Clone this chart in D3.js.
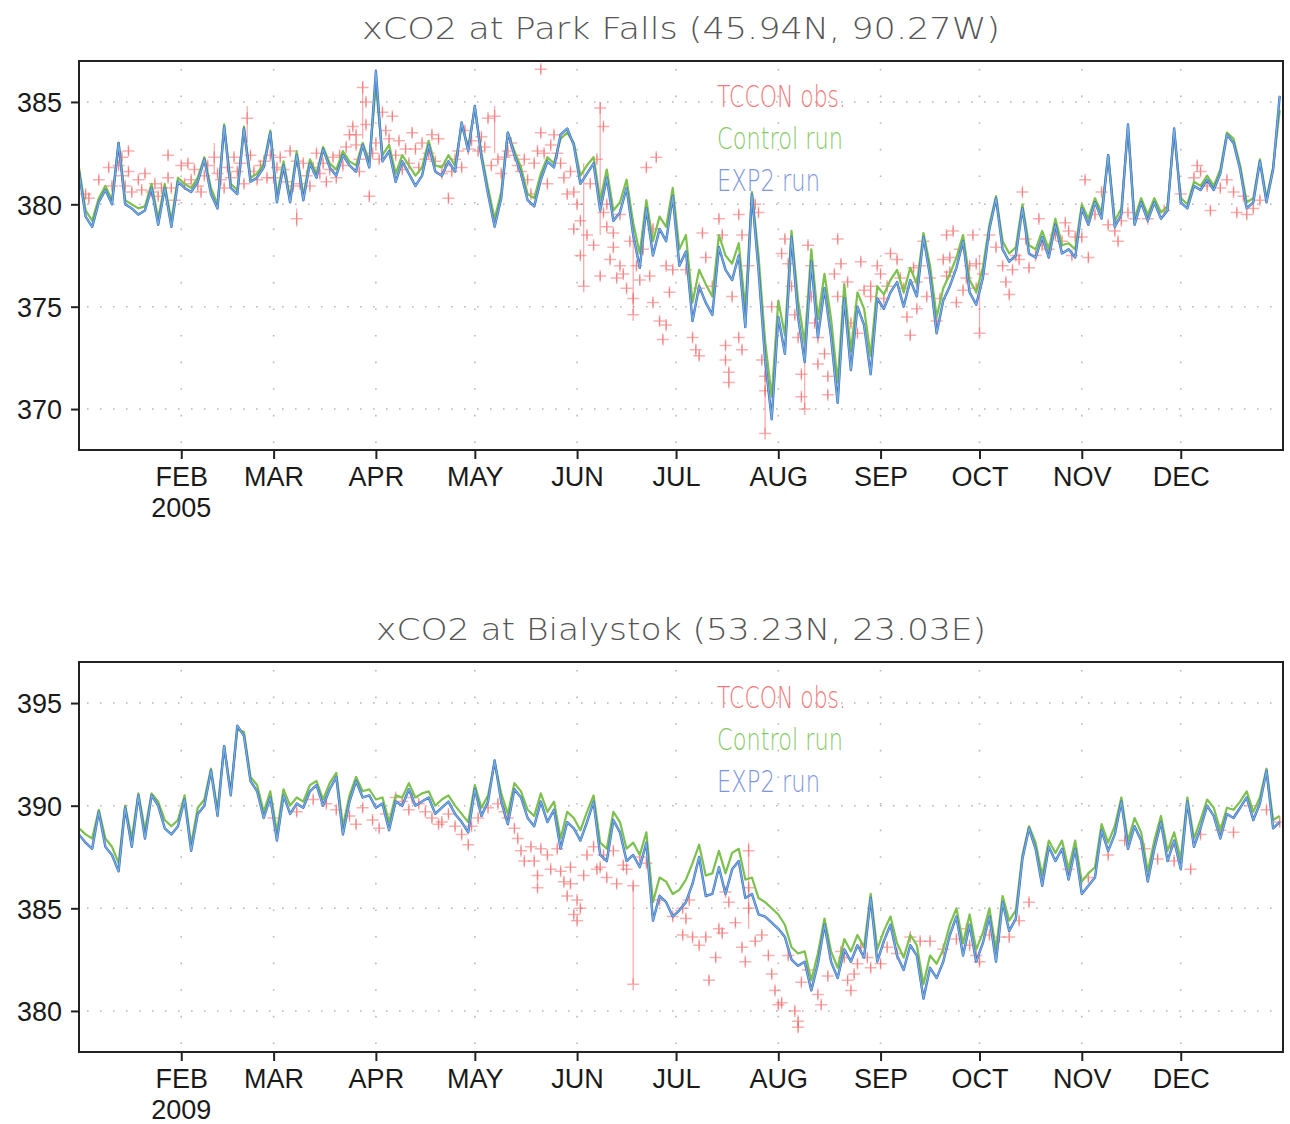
<!DOCTYPE html>
<html>
<head>
<meta charset="utf-8">
<script src="https://cdn.jsdelivr.net/npm/d3@7"></script>
<style>
  body { margin: 0; background: #fff; }
  svg { display: block; }
</style>
</head>
<body>
<svg id="chart" width="1290" height="1124"></svg>
<script>
// Model series are sampled every STEP_DAYS days starting on Jan 1.
const STEP_DAYS = 2;

const monthLabels = ["FEB", "MAR", "APR", "MAY", "JUN", "JUL", "AUG", "SEP", "OCT", "NOV", "DEC"];
const parkTicks = [370, 375, 380, 385];
const bialTicks = [380, 385, 390, 395];
const legendLabels = ["TCCON obs.", "Control run", "EXP2 run"];

// Park Falls 2005, column-averaged CO2 (ppm)
const parkExp2 = [
  381.6,379.4,378.9,380.1,380.7,380.0,383.0,380.0,379.8,379.5,379.7,380.8,379.0,380.8,378.9,381.1,
  380.8,380.6,381.1,382.2,380.5,379.8,383.8,380.8,380.5,383.7,381.1,381.3,381.8,383.5,380.1,381.9,
  380.1,382.4,380.2,382.0,381.3,382.7,381.8,381.4,382.4,381.9,381.6,382.9,381.8,386.5,382.1,382.6,
  381.1,382.1,381.5,380.9,381.4,382.9,381.6,381.4,382.1,381.6,384.0,382.6,384.8,382.3,380.5,378.9,
  380.3,383.5,382.4,381.5,380.2,379.9,381.2,382.1,381.8,383.4,383.7,382.9,381.0,381.5,382.0,379.7,
  381.3,379.2,379.6,380.8,378.5,376.9,379.8,377.5,378.8,378.2,380.4,377.0,377.7,374.3,376.0,375.2,
  374.6,377.9,376.8,376.3,377.5,374.0,380.5,376.8,372.4,369.5,374.5,372.7,378.4,374.5,372.3,377.2,
  373.5,375.9,373.5,370.3,375.4,371.9,375.0,374.1,371.7,375.4,374.9,375.7,376.2,375.0,376.3,375.5,
  378.4,376.5,373.7,375.3,376.0,376.9,378.2,375.7,375.1,376.4,378.8,380.3,377.8,377.2,377.5,379.8,
  377.6,377.4,378.4,377.4,379.0,377.6,377.8,377.4,379.8,379.0,380.1,379.3,382.4,378.9,379.5,383.9,
  379.0,380.1,379.2,380.1,379.3,379.7,383.7,380.1,379.8,380.9,380.7,381.2,380.7,381.5,383.4,383.0,
  381.7,379.8,380.1,382.1,380.1,381.7,385.3
];
const parkControl = [
  381.8,379.7,379.2,380.3,380.9,380.2,383.0,380.2,380.0,379.8,379.9,381.0,379.3,381.0,379.2,381.3,
  381.0,380.8,381.3,382.3,380.8,380.0,383.9,381.0,380.7,383.8,381.3,381.5,382.0,383.6,380.4,382.1,
  380.3,382.6,380.4,382.2,381.5,382.8,382.0,381.7,382.6,382.1,381.9,383.0,382.1,385.8,382.4,382.9,
  381.5,382.4,381.9,381.4,381.8,383.1,381.9,381.8,382.4,381.9,383.9,382.8,384.7,382.5,380.8,379.3,
  380.6,383.5,382.6,381.8,380.5,380.3,381.5,382.3,382.0,383.2,383.5,383.0,381.4,381.9,382.3,380.2,
  381.7,379.7,380.1,381.2,379.1,377.6,380.2,378.2,379.4,378.9,380.8,377.8,378.5,375.2,376.8,376.1,
  375.5,378.5,377.5,377.1,378.1,374.9,380.6,377.5,373.3,370.6,375.3,373.6,378.7,375.3,373.2,377.8,
  374.4,376.6,374.4,371.3,376.1,372.8,375.7,374.9,372.6,376.0,375.6,376.3,376.8,375.7,376.9,376.1,
  378.6,377.0,374.5,375.9,376.6,377.4,378.5,376.3,375.7,376.9,379.0,380.4,378.2,377.6,377.9,380.0,
  378.0,377.8,378.7,377.8,379.3,378.0,378.1,377.8,380.0,379.3,380.3,379.6,382.4,379.2,379.8,383.7,
  379.3,380.3,379.5,380.3,379.6,379.9,383.5,380.3,380.0,381.1,380.9,381.4,380.9,381.7,383.5,383.2,
  381.9,380.1,380.3,382.2,380.3,381.8,384.6
];
// TCCON retrievals: [day of year, value] or [day, value, bar low, bar high]
const parkObs = [
  [2,380.5],[3,380.3],[6,381.2],[9,381.8],[10,380.9],[12,381.9],[13,382.3],[13,381.4],[14,380.9],
  [15,381.6],[15,382.6],[16,380.6],[18,381.2],[19,380.7],[20,381.5],
  [22,380.6],[23,381.0],[24,380.4],[25,380.8],[27,382.4],[27,381.3],[28,380.8],[29,380.2],[31,381.9],
  [32,381.0],[33,382.0],[34,381.2],[35,381.7],[36,380.9],[37,380.6],[38,381.4],[39,381.9],
  [41,382.3,381.5,383.0],[42,381.5],[43,381.2],[44,380.8],[45,381.8],[46,381.3],[47,382.3],
  [48,381.6],[49,382.0],[50,381.0],[51,384.2,383.0,384.8],[52,382.4],[53,381.6],[54,381.2],[55,381.9],
  [56,382.1],[57,381.3],[58,382.4],[59,381.3],[60,381.8],
  [61,382.3],[62,381.7],[63,381.1],[64,382.6],[65,380.9],[66,379.3,378.9,379.8],[66,382.1],[67,381.0],
  [68,382.0],[69,381.4],[70,380.9],[71,381.8],[72,382.5],[73,381.5],[74,382.0],[75,381.1],
  [76,381.7],[77,382.3],[78,381.3],[79,382.4],[80,381.9],[81,382.8],[82,383.4],[83,383.8],[84,382.9],
  [84,383.4],[85,382.2],[85,381.6],[86,385.7,383.2,386.0],[87,385.0],
  [87,383.9],[88,380.4],[89,382.5],[90,383.0],[91,382.2],[92,384.5],[93,383.6],[94,383.2],[95,384.3],
  [96,382.4],[97,383.1],[98,381.7],[99,382.7],[100,382.0],[101,383.5],[102,382.7],[103,381.8],
  [104,383.0],[105,382.2],[106,382.5],[107,383.4],[108,382.1],[109,383.2],[110,381.5],
  [111,381.9],[112,380.3],[113,381.6],[114,382.2],[115,382.6],[116,381.8],[117,383.6],[118,382.7],
  [119,383.1],[121,382.6],[122,383.3],[123,382.8],[124,384.2],[125,381.9],
  [126,384.3,382.5,384.8],[127,382.2],[128,381.5],[129,382.3],[130,382.6],[131,383.0],[132,382.4],
  [133,381.9],[134,381.6],[135,382.2],[136,381.2],[137,380.5],[138,382.0],[139,382.6],[140,383.5],
  [140,386.6],[141,382.5],[142,381.0],[143,382.9],[144,383.4],[145,382.5],[146,382.0],[147,381.3],
  [148,380.5],[149,381.6],[150,380.6],[150,378.8],[151,380.0],[152,379.2],[152,377.5],
  [153,376.0,376.0,382.0],[154,378.5],[155,381.0],[156,378.0],[157,382.2],[158,384.7,378.5,385.0],
  [158,376.5],[159,383.8],[159,379.6],[160,380.0],[160,378.9],[161,377.3],[162,378.6],[162,377.9],
  [163,376.4],[164,379.5],[164,377.0],[165,376.6],[166,375.9],[167,378.2],[168,374.6,374.6,379.0],
  [168,375.4],[169,377.0],[170,376.3],[171,377.8],[172,381.8],[173,376.5],[174,375.2],[174,378.8],
  [175,382.3],[176,374.3],[177,373.4],[178,374.1],[178,377.0],[179,375.7],[180,376.8],
  [184,376.8],[186,373.5],[187,372.9],[188,372.6],[188,375.9],[189,378.6],[190,377.4],[192,376.0],
  [194,379.3],[195,378.5],[196,373.1],[196,372.4],[197,371.8],[197,371.3],[198,375.5],[200,379.5],
  [201,378.5],[200,373.5],[201,372.9],[203,377.0],[205,380.0],[206,379.6],[207,372.4],[208,371.6],
  [208,370.9],[208,368.8,368.8,373.0],[210,375.0],[213,377.6],[214,378.3],[215,377.1],[216,376.0],
  [217,374.6],[218,373.5],[219,371.7],[219,370.6],[220,370.0,370.0,373.5],[221,378.0],[222,377.0],
  [222,375.5],[223,374.2],[224,373.5],[224,372.2],[226,372.7],[227,371.6],[227,370.7],[229,376.6],
  [230,375.5],[230,378.3],[231,377.1],[233,376.2],[234,374.2],[236,373.7],[237,377.2],[238,375.8],
  [240,376.0],[240,375.5],[242,377.0],[243,376.6],[244,375.4],[245,376.0],[246,377.6],[248,377.3],
  [249,376.4],[250,375.9],[251,374.5],[252,373.6],[253,376.9],[254,376.2],[254,374.9],[255,377.0],
  [256,378.2],[257,375.5],[258,376.4],[260,374.3],[261,375.4],[262,377.3],[263,376.5],[263,378.5],
  [264,377.4],[264,376.7],[265,378.7],[266,375.2],[267,377.8],[268,375.8],[269,376.4],[270,377.0],
  [271,378.5],[272,377.1],[272,375.9],[273,373.7,373.7,377.5],[274,376.6],[276,378.5],[278,377.9],
  [280,377.0],[281,376.2],[282,375.6],[283,376.8],[284,377.5],[285,377.3],[286,380.6],[287,378.3],
  [288,376.9],[290,377.5],[291,379.3],[292,378.0],[294,377.8],[296,378.5],[298,378.2],[299,379.1],
  [300,378.7],[301,377.5],[302,378.4],[304,378.4],[305,381.2],[306,377.4],[308,379.5],[310,380.6],
  [312,379.0],[314,378.7],[315,378.2],[316,379.2],[318,379.6],[320,379.3],[324,379.3],[329,379.7],
  [334,380.5],[338,381.3],[339,381.9],[340,381.6],[342,380.9],[343,379.7],[346,380.8],[348,381.2],
  [350,380.6],[351,379.6],[353,380.4],[354,379.5],[356,379.8],[358,380.2]
];

// Bialystok 2009, column-averaged CO2 (ppm)
const bialExp2 = [
  388.6,388.2,387.9,389.7,388.0,387.6,386.8,389.9,388.0,390.5,388.4,390.5,390.0,388.9,388.6,389.0,
  390.3,387.8,389.6,390.0,391.7,389.5,392.9,390.5,393.9,393.4,391.2,390.7,389.4,390.4,388.3,390.5,
  389.6,390.1,389.9,390.7,391.0,390.0,390.8,391.4,388.6,390.2,391.2,390.4,390.5,389.9,390.1,388.8,
  390.2,390.0,390.8,390.0,390.2,390.4,389.6,389.9,390.2,389.6,389.2,388.7,390.8,389.5,390.2,392.2,
  390.2,389.1,390.8,390.4,389.4,389.0,390.2,389.2,389.8,387.9,389.2,388.9,388.3,389.2,390.2,387.6,
  387.3,389.3,388.7,387.3,387.6,387.0,388.2,384.4,385.6,385.3,384.6,384.9,385.3,386.2,387.5,385.6,
  385.7,387.0,385.7,386.9,387.3,385.5,385.7,384.7,384.6,384.3,384.0,383.6,382.5,382.2,382.4,381.0,
  382.3,384.2,382.4,381.6,383.0,382.4,383.2,382.6,385.5,382.4,383.4,384.2,382.7,382.0,383.2,382.7,
  380.6,382.1,381.6,382.4,383.7,384.6,382.7,384.2,382.4,383.3,384.6,382.4,385.3,383.9,384.5,387.4,
  388.9,387.9,386.1,388.0,387.3,387.9,386.4,387.9,385.7,386.1,386.5,388.8,387.8,388.6,390.2,387.9,
  389.0,388.3,386.3,387.9,389.2,387.3,388.3,386.9,390.2,388.0,388.9,390.0,389.5,388.4,389.6,389.4,
  389.9,390.4,389.3,390.1,391.7,388.9,389.2
];
const bialControl = [
  388.9,388.6,388.4,389.8,388.4,388.0,387.2,390.0,388.4,390.6,388.8,390.6,390.2,389.3,389.0,389.3,
  390.5,388.1,389.9,390.3,391.8,389.8,392.9,390.7,393.7,393.6,391.4,391.0,389.7,390.7,388.7,390.8,
  390.0,390.4,390.2,391.0,391.2,390.3,391.1,391.6,389.0,390.5,391.4,390.7,390.8,390.3,390.4,389.2,
  390.5,390.4,391.1,390.4,390.6,390.7,390.0,390.3,390.5,390.0,389.6,389.2,391.0,389.9,390.5,392.1,
  390.6,389.6,391.1,390.7,389.8,389.5,390.6,389.7,390.2,388.4,389.7,389.4,388.8,389.7,390.5,388.2,
  387.9,389.7,389.2,387.9,388.2,387.6,388.7,385.3,386.5,386.3,385.7,385.9,386.4,387.2,388.1,386.6,
  386.7,387.8,386.7,387.7,387.9,386.4,386.5,385.5,385.3,385.0,384.7,384.2,383.1,382.8,382.9,381.5,
  382.8,384.5,382.9,382.1,383.5,382.9,383.7,383.1,385.7,383.0,383.9,384.6,383.3,382.6,383.7,383.2,
  381.3,382.7,382.3,383.0,384.2,385.0,383.3,384.7,383.0,383.8,385.0,383.0,385.6,384.4,384.9,387.6,
  389.0,388.2,386.6,388.3,387.7,388.3,386.9,388.3,386.3,386.7,387.0,389.1,388.2,389.0,390.4,388.3,
  389.4,388.7,386.8,388.3,389.5,387.8,388.7,387.4,390.4,388.4,389.3,390.3,389.9,388.8,389.9,389.8,
  390.2,390.7,389.7,390.4,391.8,389.3,389.5
];
const bialObs = [
  [59,389.4],[66,389.7],[71,390.3],[75,390.1],[78,389.8],[82,389.5],[84,389.1],[86,389.9],[89,389.3],
  [91,388.9],[93,389.6],[96,390.4],[98,390.2],[100,389.8],[101,390.4],[103,390.1],[105,389.7],
  [107,389.4],[109,389.1],[110,389.2],[112,389.6],[114,389.0],[116,388.6],[118,388.1],[119,389.0],
  [121,389.4],[124,389.9],[127,390.1],[129,389.7],[130,389.4],[132,388.9],[133,388.4],[134,387.8],
  [135,387.3],[137,388.0],[138,387.3],[139,386.6],[139,386.0],[140,387.9],[142,387.6],[143,386.9],
  [145,387.9],[146,386.8],[147,386.3],[148,385.6],[149,387.0],[149,386.2],[150,384.7],[151,384.4],
  [151,385.4],[152,385.0],[153,386.6],[154,387.6],[156,388.0],[157,386.9],[158,387.0],[159,387.6],
  [160,386.5],[162,387.8],[163,386.2],[165,387.1],[166,386.9],[168,386.1],[168,381.3,381.3,386.1],
  [170,387.5],[172,387.2],[176,385.4],[180,384.6],[183,385.0],[184,384.5],[183,383.7],[185,385.4],
  [186,383.6],[188,383.2],[190,383.6],[191,381.5],[193,382.6],[194,384.0],[195,383.8],[196,385.8],
  [197,385.3],[199,384.3],[201,383.1],[202,382.4],[203,387.8,384.0,388.2],[203,386.0],[203,385.0],
  [205,383.4],[207,383.7],[209,382.7],[210,381.8],[211,381.0],[212,380.3],[213,380.4],[215,382.7],
  [217,380.0],[218,379.5],[218,379.2],[219,381.4],[221,382.0],[224,380.8],[225,380.3],[227,381.7],
  [231,382.9],[232,382.6],[233,381.5],[234,381.0],[235,381.8],[236,382.3],[237,383.1],[239,382.6],
  [240,382.1],[243,382.3],[245,383.1],[248,382.8],[252,383.6],[255,383.4],[258,383.4],[262,383.0],
  [266,383.5],[269,384.0],[270,383.2],[272,382.7],[273,382.4],[276,383.7],[279,383.6],[282,383.6],
  [285,384.4],[288,385.3],[300,386.9],[306,386.5],[312,387.6],[317,388.3],[323,387.9],[327,387.4],
  [331,388.0],[332,387.3],[337,386.9],[340,388.6],[346,388.8],[350,388.7],[355,390.0],[360,389.8],
  [364,389.2]
];

const svg = d3.select("#chart");
const plotLeft = 79, plotRight = 1283;
const DAY_MS = 864e5;

const panels = [
  { title: "xCO2 at Park Falls (45.94N, 90.27W)", year: 2005,
    exp2: parkExp2, control: parkControl, obs: parkObs,
    yDomain: [368, 387], yTicks: parkTicks,
    top: 61, bottom: 450, titleY: 39, titleW: 638, legendY: [107, 149, 191] },
  { title: "xCO2 at Bialystok (53.23N, 23.03E)", year: 2009,
    exp2: bialExp2, control: bialControl, obs: bialObs,
    yDomain: [378, 397], yTicks: bialTicks,
    top: 662, bottom: 1052, titleY: 640, titleW: 610, legendY: [708, 750, 792] }
];

const legendColors = ["#f27a7a", "#86c966", "#7d97dc"];
const legendWidths = [129, 126, 103];

panels.forEach((p, pi) => {
  const t0 = Date.UTC(p.year, 0, 1);
  const x = d3.scaleUtc().domain([new Date(t0), new Date(Date.UTC(p.year + 1, 0, 1))])
    .range([plotLeft, plotRight]);
  const dayDate = d => new Date(t0 + d * DAY_MS);
  const y = d3.scaleLinear().domain(p.yDomain).range([p.bottom, p.top]);
  const monthDates = d3.utcMonth.range(new Date(Date.UTC(p.year, 1, 1)), new Date(Date.UTC(p.year, 11, 2)));

  const g = svg.append("g");

  // title
  g.append("text")
    .attr("x", (plotLeft + plotRight) / 2)
    .attr("y", p.titleY)
    .attr("text-anchor", "middle")
    .attr("textLength", p.titleW)
    .attr("lengthAdjust", "spacingAndGlyphs")
    .style("font-family", "'DejaVu Sans', sans-serif")
    .style("font-weight", 200)
    .style("font-size", "30px")
    .style("fill", "#555")
    .text(p.title);

  const clipId = "clip" + pi;
  g.append("clipPath").attr("id", clipId)
    .append("rect").attr("x", plotLeft).attr("y", p.top)
    .attr("width", plotRight - plotLeft).attr("height", p.bottom - p.top);

  // dotted grid
  const grid = g.append("g").attr("stroke", "#b8b8b8").attr("stroke-width", 1.6).attr("fill", "none");
  grid.selectAll("line.h").data(p.yTicks).join("line")
    .attr("class", "h")
    .attr("x1", plotLeft + 8).attr("x2", plotRight)
    .attr("y1", d => y(d)).attr("y2", d => y(d))
    .attr("stroke-dasharray", "1.6 11.4");
  grid.selectAll("line.v").data(monthDates).join("line")
    .attr("class", "v")
    .attr("x1", d => x(d)).attr("x2", d => x(d))
    .attr("y1", p.top + 8).attr("y2", p.bottom)
    .attr("stroke-dasharray", "1.6 25");

  const plot = g.append("g").attr("clip-path", `url(#${clipId})`);

  // observations: error bars and plus markers
  const obs = p.obs.map(r => ({ d: r[0], v: r[1], lo: r.length > 2 ? r[2] : r[1] - 0.2, hi: r.length > 2 ? r[3] : r[1] + 0.2 }));
  plot.append("g").selectAll("line").data(obs).join("line")
    .attr("x1", o => x(dayDate(o.d))).attr("x2", o => x(dayDate(o.d)))
    .attr("y1", o => y(o.lo)).attr("y2", o => y(o.hi))
    .attr("stroke", "#f07070").attr("stroke-opacity", 0.6).attr("stroke-width", 1.2);
  plot.append("g").selectAll("path").data(obs).join("path")
    .attr("transform", o => `translate(${x(dayDate(o.d))},${y(o.v)})`)
    .attr("d", "M-6,0H6M0,-6V6")
    .attr("stroke", "#ef4f4f").attr("stroke-opacity", 0.45).attr("stroke-width", 1.5)
    .attr("fill", "none");

  // model runs
  const line = d3.line().x((v, i) => x(dayDate(i * STEP_DAYS))).y(v => y(v));
  plot.append("path").datum(p.control).attr("d", line)
    .attr("fill", "none").attr("stroke", "#7cc04e").attr("stroke-width", 2.2)
    .attr("stroke-linejoin", "round");
  plot.append("path").datum(p.exp2).attr("d", line)
    .attr("fill", "none").attr("stroke", "#3f63c6").attr("stroke-width", 2.4)
    .attr("stroke-linejoin", "round");
  plot.append("path").datum(p.exp2).attr("d", line)
    .attr("fill", "none").attr("stroke", "#70b2dc").attr("stroke-width", 1.3)
    .attr("stroke-linejoin", "round");

  // legend
  legendLabels.forEach((lab, i) => {
    g.append("text")
      .attr("x", 717).attr("y", p.legendY[i])
      .attr("textLength", legendWidths[i])
      .attr("lengthAdjust", "spacingAndGlyphs")
      .style("font-family", "'DejaVu Sans', sans-serif")
      .style("font-weight", 200)
      .style("font-size", "30px")
      .style("fill", legendColors[i])
      .text(lab);
  });

  // axes
  const xAxis = d3.axisBottom(x).tickValues(monthDates)
    .tickFormat((d, i) => monthLabels[i]).tickSize(9).tickPadding(8);
  const xa = g.append("g").attr("transform", `translate(0,${p.bottom})`).call(xAxis);
  const yAxis = d3.axisLeft(y).tickValues(p.yTicks).tickSize(8).tickPadding(9);
  const ya = g.append("g").attr("transform", `translate(${plotLeft},0)`).call(yAxis);
  [xa, ya].forEach(a => {
    a.select(".domain").remove();
    a.selectAll(".tick line").attr("stroke", "#222").attr("stroke-width", 2);
    a.selectAll(".tick text")
      .style("font-family", "'Liberation Sans', Arial, sans-serif")
      .style("font-size", "27px")
      .style("fill", "#1a1a1a");
  });
  ya.selectAll(".tick text").attr("dy", "0.36em");

  g.append("text")
    .attr("x", x(monthDates[0])).attr("y", p.bottom + 67)
    .attr("text-anchor", "middle")
    .style("font-family", "'Liberation Sans', Arial, sans-serif")
    .style("font-size", "27px")
    .style("fill", "#1a1a1a")
    .text(String(p.year));

  // frame
  g.append("rect")
    .attr("x", plotLeft).attr("y", p.top)
    .attr("width", plotRight - plotLeft).attr("height", p.bottom - p.top)
    .attr("fill", "none").attr("stroke", "#222").attr("stroke-width", 2);
});
</script>
</body>
</html>
